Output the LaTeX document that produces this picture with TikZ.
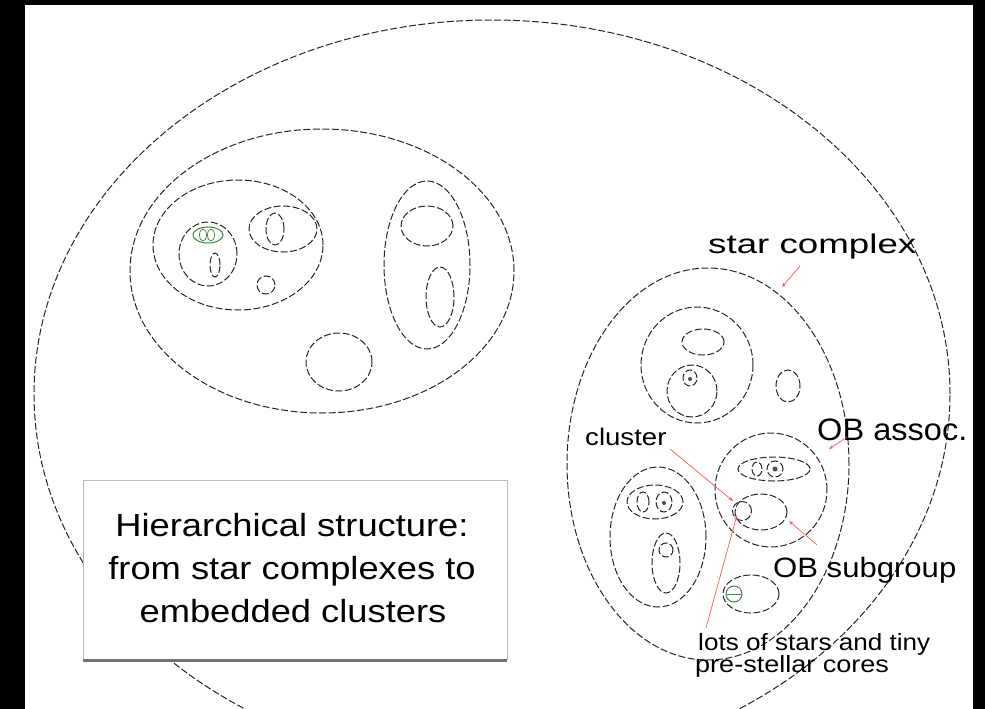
\documentclass[tikz,border=0pt]{standalone}
\usepackage{fontspec}
\setmainfont{Liberation Sans}
\usepackage{graphicx}
\usetikzlibrary{arrows.meta}
\newcommand{\sxs}[2]{\scalebox{#1}[1]{#2}}
\tikzset{
  ln/.style={draw=black!85, line width=1pt, dash pattern=on 7pt off 2.5pt},
  gln/.style={draw=green!35!black!75, line width=1pt},
  redarrow/.style={draw=red!65, line width=0.7pt, -{Stealth[length=4.5pt,width=3.5pt]}},
  lbl/.style={inner sep=0pt, anchor=base west, text=black},
  boxtxt/.style={inner sep=0pt, anchor=base, text=black, font=\fontsize{32}{32}\selectfont},
}
\begin{document}
\begin{tikzpicture}[x=1pt,y=-1pt]
\fill[black] (0,0) rectangle (985,709);
\useasboundingbox (0,0) rectangle (985,709);
\fill[white] (25,5) rectangle (973,709);

% outermost ellipse
\draw[ln] (492,394) ellipse [x radius=458pt, y radius=374pt];

% left star complex
\draw[ln] (322,271) ellipse [x radius=192pt, y radius=142pt];
\draw[ln] (238,245) ellipse [x radius=85pt, y radius=65pt];
\draw[ln] (208,254) ellipse [x radius=29pt, y radius=32pt];
\draw[gln] (208,235) ellipse [x radius=15pt, y radius=8pt];
\draw[gln, line width=0.7pt] (203,235) ellipse [x radius=3.5pt, y radius=6pt];
\draw[gln, line width=0.7pt] (211,235) ellipse [x radius=3.5pt, y radius=6pt];
\draw[ln] (215,265) ellipse [x radius=5pt, y radius=12pt];
\draw[ln] (283,229) ellipse [x radius=34pt, y radius=23pt];
\draw[ln] (275,229) ellipse [x radius=9pt, y radius=16pt];
\draw[ln] (266,285) circle [radius=9pt];
\draw[ln] (427,265) ellipse [x radius=43pt, y radius=84pt];
\draw[ln] (427,226) ellipse [x radius=26pt, y radius=20pt];
\draw[ln] (440,297) ellipse [x radius=14pt, y radius=30pt];
\draw[ln] (339,362) ellipse [x radius=33pt, y radius=29pt];

% right star complex
\draw[ln] (708,464) ellipse [x radius=141pt, y radius=196pt];
\draw[ln] (697,365) ellipse [x radius=56pt, y radius=58pt];
\draw[ln] (703,342) ellipse [x radius=21pt, y radius=13pt];
\draw[ln] (692,391) ellipse [x radius=25pt, y radius=26pt];
\draw[ln] (690,378) ellipse [x radius=7pt, y radius=8pt];
\fill[black!70] (690,379) circle [radius=2pt];
\draw[ln] (788,386) ellipse [x radius=12pt, y radius=16pt];
% OB association
\draw[ln] (771,490) ellipse [x radius=56pt, y radius=57pt];
\draw[ln] (774,469) ellipse [x radius=36pt, y radius=12pt];
\draw[ln] (757,469) ellipse [x radius=5pt, y radius=7pt];
\draw[ln] (775,469) circle [radius=8pt];
\fill[black!70] (775,469) circle [radius=2.5pt];
\draw[ln] (761,512) ellipse [x radius=26pt, y radius=18pt];
\draw[ln] (742,511) circle [radius=9.5pt];
% left-lower association
\draw[ln] (658,537) ellipse [x radius=48pt, y radius=70pt];
\draw[ln] (655,502) ellipse [x radius=28pt, y radius=17pt];
\draw[ln] (643,502) ellipse [x radius=6pt, y radius=10pt];
\draw[ln] (664,502) ellipse [x radius=8pt, y radius=10pt];
\fill[black!70] (664,503) circle [radius=2pt];
\draw[ln] (666,563) ellipse [x radius=14pt, y radius=30pt];
\draw[ln] (666,550) circle [radius=7pt];
% bottom group
\draw[ln] (751,594) ellipse [x radius=28pt, y radius=19pt];
\draw[gln] (734,594) circle [radius=8pt];
\draw[gln, line width=0.7pt] (727,594) -- (741,594);

% caption box
\node[draw=gray!55, line width=0.6pt, fill=white, minimum width=424pt, minimum height=179pt, inner sep=0pt] (box) at (295,569.5) {};
\draw[black!55, line width=2.5pt] ([yshift=-1pt]box.south west) -- ([yshift=-1pt]box.south east);
\node[boxtxt] (t1) at (292,536) {\sxs{1.135}{Hierarchical structure:}};
\node[boxtxt] (t2) at (292,579) {\sxs{1.135}{from star complexes to}};
\node[boxtxt] (t3) at (293,622) {\sxs{1.135}{embedded clusters}};

% labels
\node[lbl] (sc) at (708,253) {\fontsize{27}{27}\selectfont\sxs{1.36}{star complex}};
\node[lbl] (ob) at (817,440) {\fontsize{31}{31}\selectfont\sxs{1.05}{OB assoc.}};
\node[lbl] (cl) at (585,445) {\fontsize{24}{24}\selectfont\sxs{1.15}{cluster}};
\node[lbl] (obs) at (773,577) {\fontsize{28}{28}\selectfont\sxs{1.11}{OB subgroup}};
\node[lbl] (lots1) at (698,650) {\fontsize{23.5}{23.5}\selectfont\sxs{1.11}{lots of stars and tiny}};
\node[lbl] (lots2) at (695,672) {\fontsize{23.5}{23.5}\selectfont\sxs{1.15}{pre-stellar cores}};

% red pointers
\coordinate (scA) at (800,266);  \coordinate (scB) at (782,287);
\coordinate (obA) at (847,437);  \coordinate (obB) at (829,449);
\coordinate (clA) at (670,449);  \coordinate (clB) at (733,501);
\coordinate (loA) at (706,628);  \coordinate (loB) at (737,515);
\coordinate (osA) at (817,545);  \coordinate (osB) at (789,521);
\draw[redarrow] (scA) -- (scB);
\draw[redarrow] (obA) -- (obB);
\draw[redarrow] (clA) -- (clB);
\draw[redarrow] (loA) -- (loB);
\draw[redarrow] (osA) -- (osB);
\end{tikzpicture}
\end{document}
